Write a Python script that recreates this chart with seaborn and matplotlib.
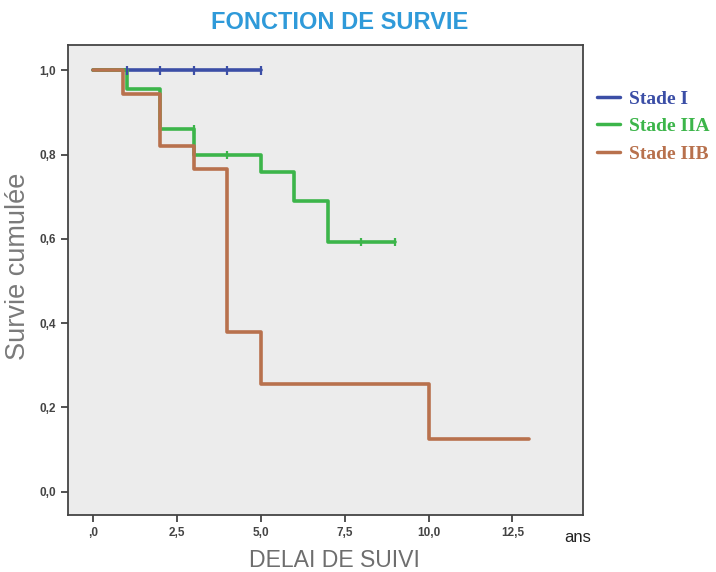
import numpy as np
import pandas as pd
import matplotlib
matplotlib.use("Agg")
import matplotlib.pyplot as plt
import seaborn as sns
from matplotlib.ticker import FuncFormatter
from matplotlib.lines import Line2D

groups = ["Stade I", "Stade IIA", "Stade IIB"]
colors = ["#3b4ea6", "#3cb54a", "#b8714d"]

# step times and survival values (steps-post)
t_I = [0.0, 5.0]
s_I = [1.0, 1.0]
t_IIA = [0.0, 1.0, 2.0, 3.0, 5.0, 6.0, 7.0, 9.0]
s_IIA = [1.0, 0.955, 0.86, 0.80, 0.76, 0.69, 0.593, 0.593]
t_IIB = [0.0, 0.9, 2.0, 3.0, 4.0, 5.0, 10.0, 13.0]
s_IIB = [1.0, 0.945, 0.82, 0.765, 0.38, 0.255, 0.125, 0.125]

# censored observations
c_I_t = [1.0, 2.0, 3.0, 4.0, 5.0]
c_I_s = [1.0, 1.0, 1.0, 1.0, 1.0]
c_IIA_t = [3.0, 4.0, 8.0, 9.0]
c_IIA_s = [0.86, 0.80, 0.593, 0.593]

xticks = [0, 2.5, 5.0, 7.5, 10.0, 12.5]
yticks = [0.0, 0.2, 0.4, 0.6, 0.8, 1.0]

df = pd.concat([
    pd.DataFrame({"t": t_I, "s": s_I, "g": groups[0]}),
    pd.DataFrame({"t": t_IIA, "s": s_IIA, "g": groups[1]}),
    pd.DataFrame({"t": t_IIB, "s": s_IIB, "g": groups[2]}),
])
cens = pd.concat([
    pd.DataFrame({"t": c_I_t, "s": c_I_s, "g": groups[0]}),
    pd.DataFrame({"t": c_IIA_t, "s": c_IIA_s, "g": groups[1]}),
])

sns.set_style("white")
plt.rcParams["font.family"] = ["Liberation Sans", "DejaVu Sans"]
fig = plt.figure(figsize=(7.16, 5.72), dpi=100)
ax = fig.add_axes([0.095, 0.10, 0.719, 0.821])
ax.set_facecolor("#ececec")

pal = dict(zip(groups, colors))
sns.lineplot(data=df, x="t", y="s", hue="g", palette=pal, estimator=None,
             drawstyle="steps-post", linewidth=2.6, ax=ax, legend=False, sort=True)
sns.scatterplot(data=cens, x="t", y="s", hue="g", palette=pal, marker="|",
                s=35, linewidth=1.6, ax=ax, legend=False, zorder=5)

ax.set_xlim(-0.75, 14.6)
ax.set_ylim(-0.055, 1.06)
ax.set_xticks(xticks)
ax.set_yticks(yticks)

ax.xaxis.set_major_formatter(FuncFormatter(lambda v, p: ",0" if v == 0 else f"{v:.1f}".replace(".", ",")))
ax.yaxis.set_major_formatter(FuncFormatter(lambda v, p: f"{v:.1f}".replace(".", ",")))
ax.tick_params(axis="both", which="major", direction="out", length=5, width=1.3,
               labelsize=8.5, colors="#444444", bottom=True, left=True)
for lab in ax.get_xticklabels() + ax.get_yticklabels():
    lab.set_fontweight("bold")
    lab.set_family(["Liberation Sans Narrow", "Liberation Sans"])
for sp in ax.spines.values():
    sp.set_color("#444444")
    sp.set_linewidth(1.3)

ax.set_xlabel("DELAI DE SUIVI", fontsize=16.6, color="#6e6e6e")
ax.xaxis.set_label_coords(0.517, -0.072)
ax.set_ylabel("Survie cumulée", fontsize=19.5, color="#7a7a7a")
ax.yaxis.set_label_coords(-0.072, 0.53)
fig.text(0.475, 0.96, "FONCTION DE SURVIE", ha="center", va="center",
         fontsize=17, fontweight="bold", color="#2f9ad9")
fig.text(0.807, 0.06, "ans", ha="center", va="center", fontsize=12, color="#222222")

handles = [Line2D([0], [0], color=c, lw=2.5) for c in colors]
leg = ax.legend(handles, groups, loc="upper left", bbox_to_anchor=(1.027, 0.904),
                frameon=False, handlelength=1.2, handletextpad=0.45,
                borderpad=0, borderaxespad=0,
                labelspacing=0.5, labelcolor=colors,
                prop={"family": "Liberation Serif", "weight": "bold", "size": 14})

fig.savefig("out.png", dpi=100)
